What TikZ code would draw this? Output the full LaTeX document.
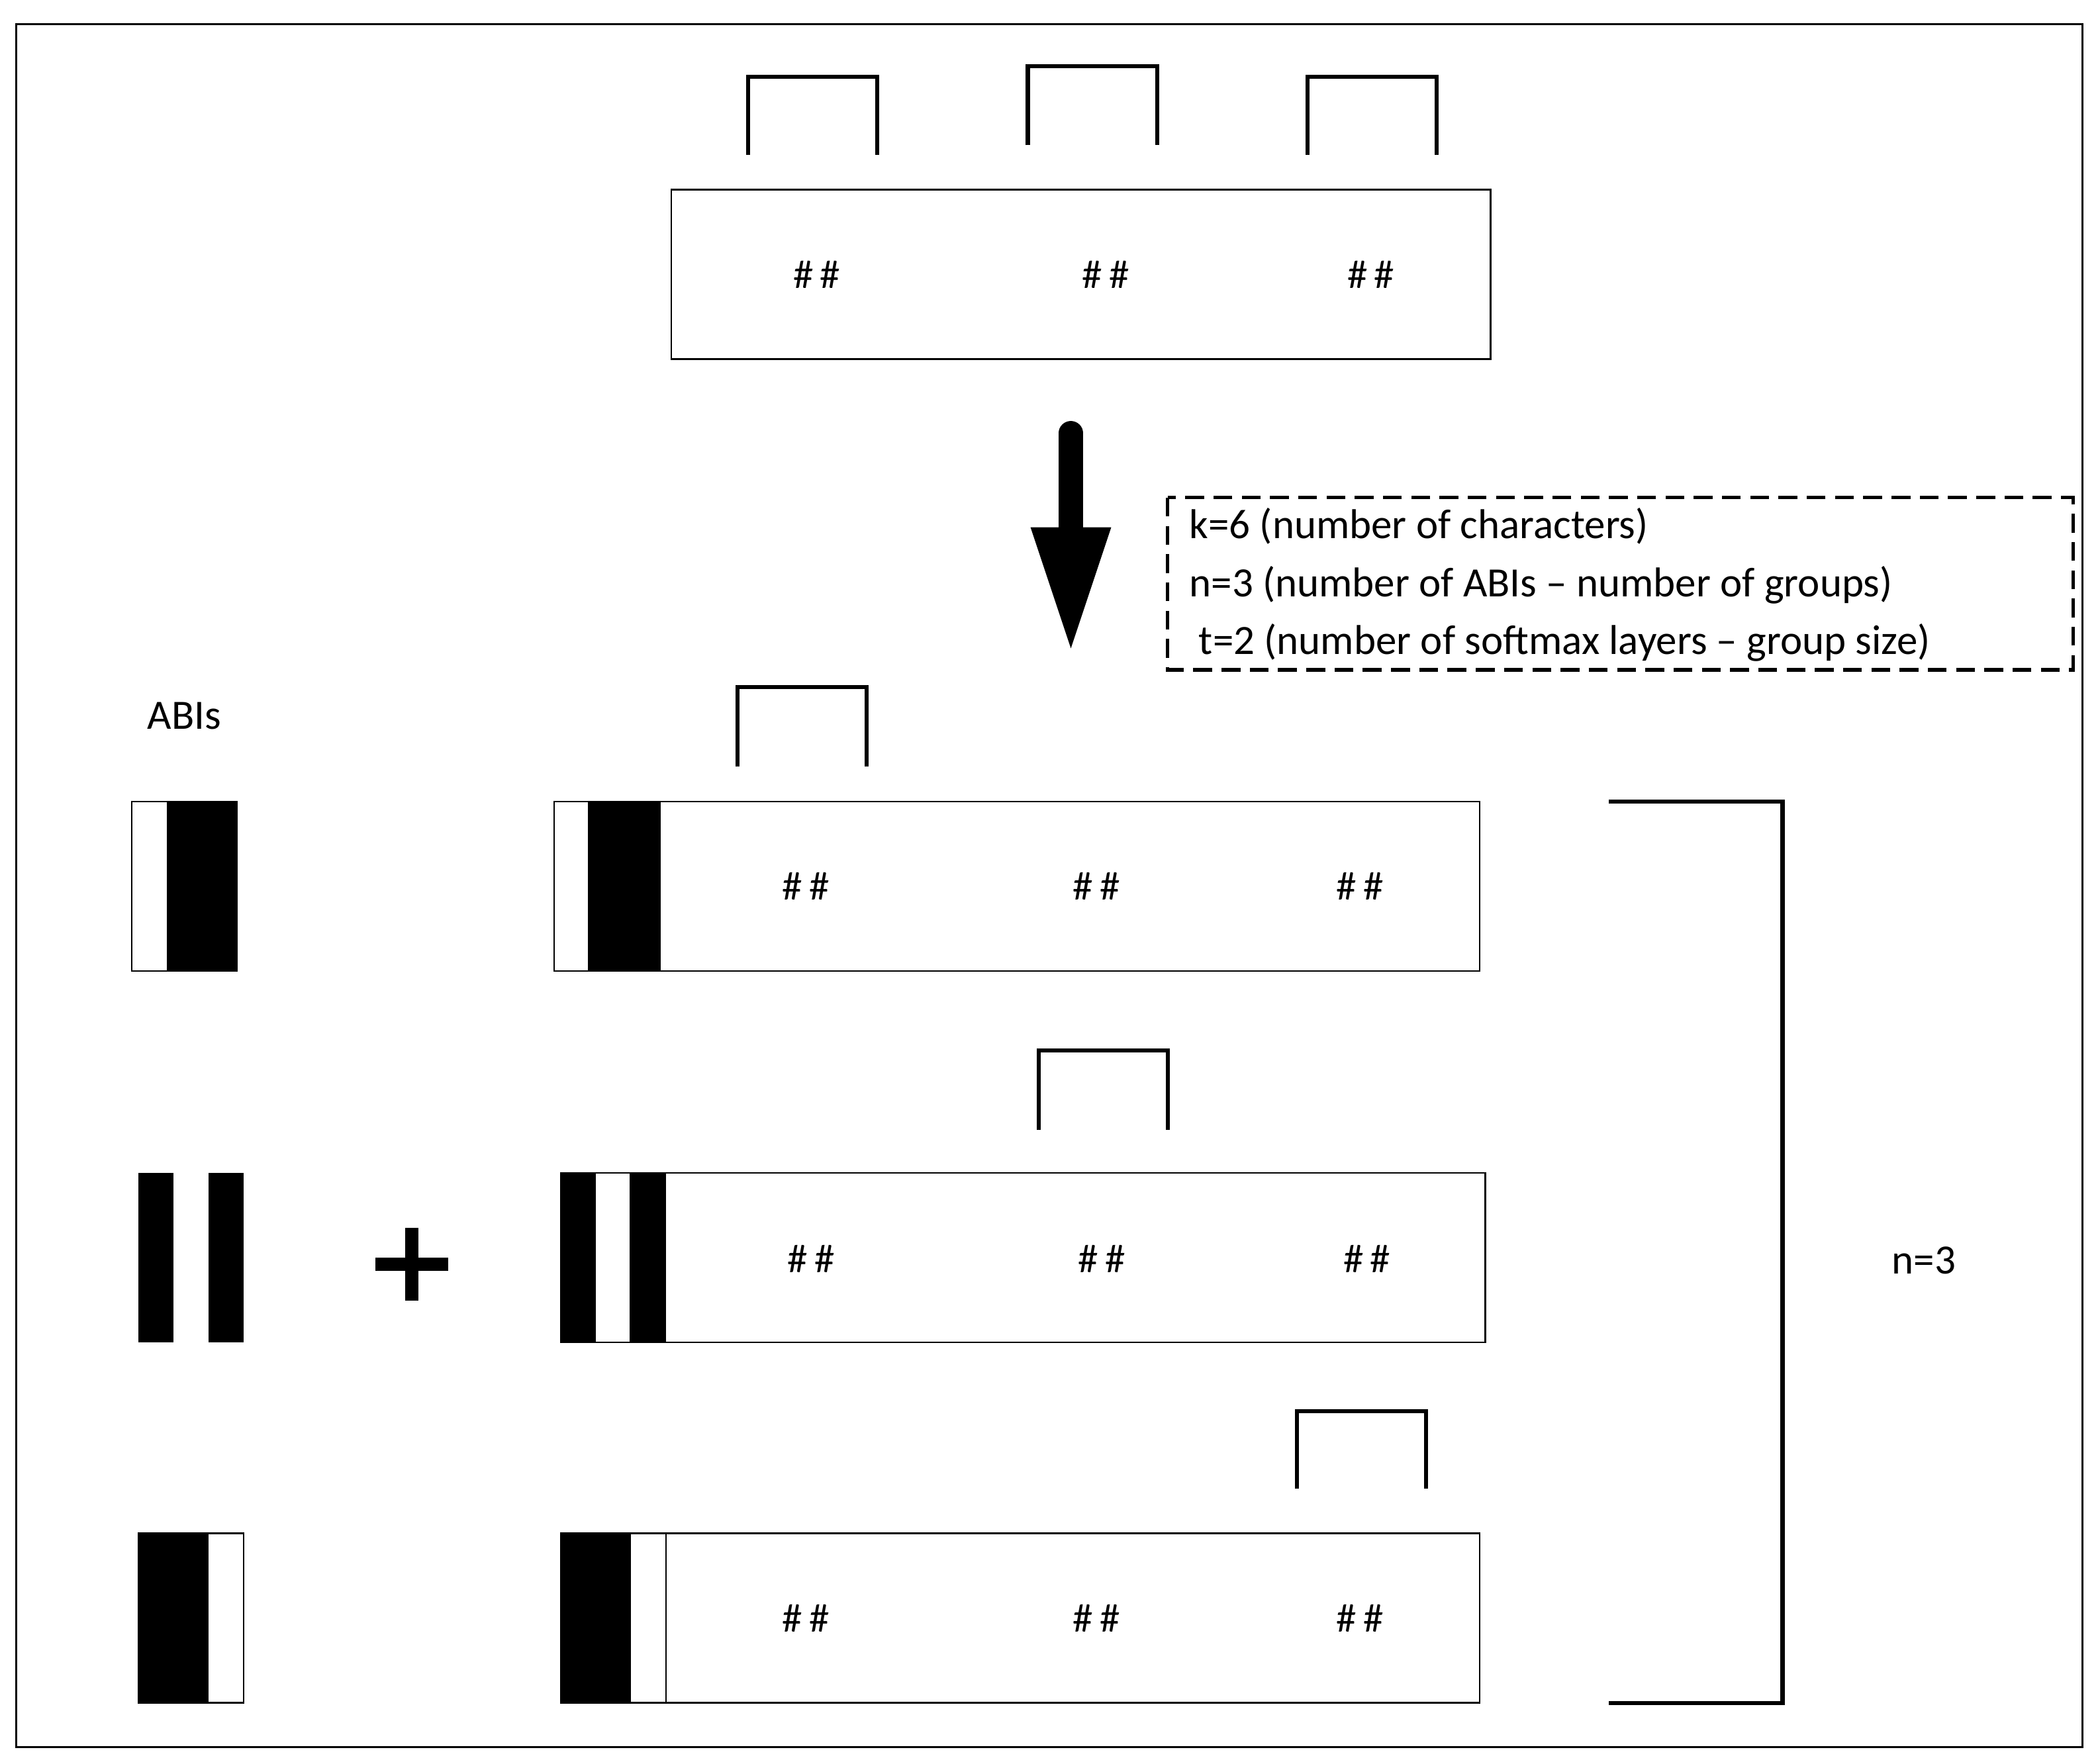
\documentclass[tikz,border=0pt]{standalone}
\usepackage{fontspec}
\setmainfont{Carlito}
\begin{document}
\begin{tikzpicture}[x=1pt,y=-1pt,
  thin box/.style={draw,line width=1.2pt},
  brk/.style={draw,line width=3pt},
  hh/.style={font=\fontsize{30}{36}\selectfont},
  lbl/.style={font=\fontsize{31}{38}\selectfont,anchor=west,inner sep=0}]
\useasboundingbox (0,0) rectangle (1561,1310);
\draw[line width=1.5pt] (12,18) rectangle (1548,1299);
% top
\draw[thin box] (499,141) rectangle (1108,267);
\foreach \x/\n in {607/a,822/b,1019/c} \node[hh] (t\n) at (\x,204) {\#\,\#};
\draw[brk] (556,115)--(556,57)--(652,57)--(652,115);
\draw[brk] (764,108)--(764,49)--(860,49)--(860,108);
\draw[brk] (972,115)--(972,57)--(1068,57)--(1068,115);
% arrow
\draw[line width=18pt,line cap=round] (796,322)--(796,400);
\fill (766,392)--(826,392)--(796,482)--cycle;
% legend
\draw[dashed,line width=2.5pt,dash pattern=on 14pt off 7pt] (868,370) rectangle (1541,498);
\node[lbl] (l1) at (884,391) {k=6 (number of characters)};
\node[lbl] (l2) at (884,435) {n=3 (number of ABIs -- number of groups)};
\node[lbl] (l3) at (891,478) {t=2 (number of softmax layers -- group size)};
\node[lbl,anchor=center] (abis) at (137,532) {ABIs};
% row 1
\draw[thin box] (412,596) rectangle (1100,722);
\fill (437,596) rectangle (491,722);
\foreach \x/\n in {599/a,815/b,1011/c} \node[hh] (r1\n) at (\x,659) {\#\,\#};
\draw[brk] (548,570)--(548,511)--(644,511)--(644,570);
\draw[thin box] (98,596) rectangle (176,722);
\fill (124,596) rectangle (176,722);
% row 2
\draw[thin box] (417,872) rectangle (1104,998);
\fill (417,872) rectangle (443,998);
\fill (468,872) rectangle (495,998);
\foreach \x/\n in {603/a,819/b,1016/c} \node[hh] (r2\n) at (\x,936) {\#\,\#};
\draw[brk] (772,840)--(772,781)--(868,781)--(868,840);
\fill (103,872) rectangle (129,998);
\fill (155,872) rectangle (181,998);
\draw[line width=10pt] (279,940)--(333,940) (306,913)--(306,967);
% row 3
\draw[thin box] (417,1140) rectangle (1100,1266);
\draw[thin box] (417,1140) rectangle (495,1266);
\fill (417,1140) rectangle (469,1266);
\foreach \x/\n in {599/a,815/b,1011/c} \node[hh] (r3\n) at (\x,1203) {\#\,\#};
\draw[brk] (964,1107)--(964,1049)--(1060,1049)--(1060,1107);
\draw[thin box] (103,1140) rectangle (181,1266);
\fill (103,1140) rectangle (155,1266);
% right bracket
\draw[brk] (1196,596)--(1325,596)--(1325,1266)--(1196,1266);
\node[lbl,anchor=center] (n3) at (1430,937) {n=3};
\end{tikzpicture}
\end{document}
